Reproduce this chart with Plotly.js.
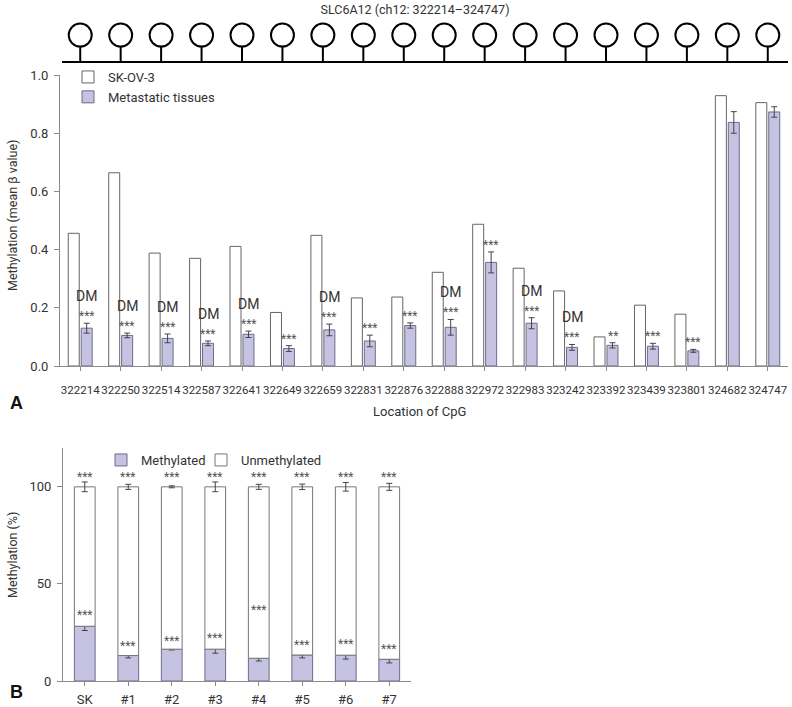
<!DOCTYPE html>
<html>
<head>
<meta charset="utf-8">
<script src="https://cdn.plot.ly/plotly-3.0.1.min.js"></script>
<style>
  html, body { margin: 0; padding: 0; background: #fff; }
  #chart { width: 792px; height: 707px; }
</style>
</head>
<body>
<div id="chart"></div>
<script>
// ---------- Panel A data ----------
const cpgSites = ['322214','322250','322514','322587','322641','322649','322659','322831','322876',
                  '322888','322972','322983','323242','323392','323439','323801','324682','324747'];
const skov3 = [0.456,0.664,0.388,0.370,0.411,0.184,0.449,0.234,0.237,0.322,0.487,0.336,0.258,0.100,0.209,0.178,0.929,0.905];
const metastatic = [0.130,0.105,0.095,0.078,0.109,0.060,0.124,0.086,0.139,0.133,0.356,0.147,0.064,0.071,0.068,0.052,0.837,0.873];
const metastaticErr = [0.017,0.008,0.015,0.008,0.011,0.010,0.020,0.020,0.009,0.027,0.036,0.019,0.010,0.009,0.010,0.005,0.037,0.018];
const sigA = ['***','***','***','***','***','***','***','***','***','***','***','***','***','**','***','***','',''];
const dmFlag = [1,1,1,1,1,0,1,0,0,1,0,1,1,0,0,0,0,0];

// ---------- Panel B data ----------
const samples = ['SK','#1','#2','#3','#4','#5','#6','#7'];
const methylated = [28.2,13.1,16.4,16.4,11.7,13.4,13.3,11.2];
const methylatedErr = [2.2,1.2,0.4,2.1,1.4,1.5,2.0,1.9];
const unmethylatedErr = [2.5,1.3,0.5,2.5,1.3,1.4,2.2,1.8];
const sigBTop = ['***','***','***','***','***','***','***','***'];
const sigBBottom = ['***','***','***','***','***','***','***','***'];

const FONT = 'Roboto, Liberation Sans, Arial, sans-serif';
const PURPLE = '#c5c3e1';
const PURPLE_LINE = '#6d6b8c';
const AXIS = '#8a8a8a';
const TXT = '#333333';

const idx = cpgSites.map((_, i) => i);
const unmethylated = methylated.map(v => 100 - v);

const traces = [
  // lollipop stems
  {
    type: 'scatter', mode: 'lines', xaxis: 'x', yaxis: 'y3',
    x: idx.flatMap(i => [i, i, null]),
    y: idx.flatMap(() => [0, 0.36, null]),
    line: {color: '#000', width: 2}, showlegend: false, hoverinfo: 'skip', cliponaxis: false
  },
  // lollipop heads
  {
    type: 'scatter', mode: 'markers', xaxis: 'x', yaxis: 'y3',
    x: idx, y: idx.map(() => 0.62),
    marker: {symbol: 'circle-open', size: 23, color: '#000', line: {width: 2, color: '#000'}},
    showlegend: false, hoverinfo: 'skip', cliponaxis: false
  },
  // Panel A bars
  {
    type: 'bar', name: 'SK-OV-3', x: idx, y: skov3, xaxis: 'x', yaxis: 'y',
    marker: {color: '#ffffff', line: {color: '#666', width: 1}}, legend: 'legend'
  },
  {
    type: 'bar', name: 'Metastatic tissues', x: idx, y: metastatic, xaxis: 'x', yaxis: 'y',
    marker: {color: PURPLE, line: {color: PURPLE_LINE, width: 1}},
    error_y: {type: 'data', array: metastaticErr, visible: true, color: '#444', thickness: 1, width: 3},
    legend: 'legend'
  },
  // Panel B stacked bars
  {
    type: 'bar', name: 'Methylated', x: samples, y: methylated, xaxis: 'x2', yaxis: 'y2',
    offsetgroup: 'b', width: 0.477, offset: -0.2385,
    marker: {color: PURPLE, line: {color: PURPLE_LINE, width: 1}},
    error_y: {type: 'data', array: methylatedErr, visible: true, color: '#444', thickness: 1, width: 3},
    legend: 'legend2'
  },
  {
    type: 'bar', name: 'Unmethylated', x: samples, y: unmethylated, base: methylated, xaxis: 'x2', yaxis: 'y2',
    offsetgroup: 'b', width: 0.477, offset: -0.2385,
    marker: {color: '#ffffff', line: {color: '#777', width: 1}},
    error_y: {type: 'data', array: unmethylatedErr, visible: true, color: '#444', thickness: 1, width: 3},
    legend: 'legend3'
  }
];

const annotations = [];
idx.forEach(i => {
  if (sigA[i]) {
    annotations.push({xref: 'x', yref: 'y', x: i, y: metastatic[i] + metastaticErr[i], xshift: 6.5, yshift: -2,
      yanchor: 'bottom', text: sigA[i], showarrow: false, font: {family: FONT, size: 12, color: '#555'}});
  }
  if (dmFlag[i]) {
    annotations.push({xref: 'x', yref: 'y', x: i, y: metastatic[i] + metastaticErr[i], xshift: 6.5, yshift: 27,
      yanchor: 'middle', text: 'DM', showarrow: false, font: {family: FONT, size: 14, color: TXT}});
  }
});
samples.forEach((s, i) => {
  annotations.push({xref: 'x2', yref: 'y2', x: s, y: 100, yshift: 1, yanchor: 'bottom',
    text: sigBTop[i], showarrow: false, font: {family: FONT, size: 12, color: '#555'}});
  const yb = (s === '#4') ? 33 : methylated[i] + methylatedErr[i];
  annotations.push({xref: 'x2', yref: 'y2', x: s, y: yb, yshift: -2, yanchor: 'bottom',
    text: sigBBottom[i], showarrow: false, font: {family: FONT, size: 12, color: '#555'}});
});
// axis titles & panel letters
annotations.push(
  {xref: 'paper', yref: 'paper', x: 0.4945, y: (707 - 411) / 707, text: 'Location of CpG', showarrow: false,
   font: {family: FONT, size: 13, color: TXT}, xanchor: 'center', yanchor: 'middle'},
  {xref: 'paper', yref: 'paper', x: (12 - 60) / 728, y: (707 - 216) / 707, text: 'Methylation (mean β value)', textangle: -90,
   showarrow: false, font: {family: FONT, size: 12.5, color: TXT}, xanchor: 'center', yanchor: 'middle'},
  {xref: 'paper', yref: 'paper', x: (12 - 60) / 728, y: (707 - 555) / 707, text: 'Methylation (%)', textangle: -90,
   showarrow: false, font: {family: FONT, size: 12.5, color: TXT}, xanchor: 'center', yanchor: 'middle'},
  {xref: 'paper', yref: 'paper', x: (16 - 60) / 728, y: (707 - 403) / 707, text: '<b>A</b>', showarrow: false,
   font: {family: 'Liberation Sans, Arial, sans-serif', size: 18, color: '#111'}, xanchor: 'center', yanchor: 'middle'},
  {xref: 'paper', yref: 'paper', x: (16 - 60) / 728, y: (707 - 692) / 707, text: '<b>B</b>', showarrow: false,
   font: {family: 'Liberation Sans, Arial, sans-serif', size: 18, color: '#111'}, xanchor: 'center', yanchor: 'middle'}
);

const axisCommon = {
  showline: true, linecolor: AXIS, linewidth: 1, ticks: 'outside', tickcolor: AXIS, ticklen: 5,
  showgrid: false, zeroline: false, tickfont: {family: FONT, size: 13, color: TXT}, fixedrange: true
};

const legendCommon = {xanchor: 'left', yanchor: 'top', bgcolor: 'rgba(0,0,0,0)',
  font: {family: FONT, size: 13, color: TXT}, traceorder: 'normal', itemclick: false};

const layout = {
  width: 792, height: 707,
  margin: {l: 60, r: 4, t: 0, b: 0},
  paper_bgcolor: '#fff', plot_bgcolor: 'rgba(0,0,0,0)',
  font: {family: FONT, size: 13, color: TXT},
  title: {text: 'SLC6A12 (ch12: 322214–324747)', x: 415 / 792, xanchor: 'center', xref: 'container',
          y: 1 - 10 / 707, yanchor: 'middle', yref: 'container', font: {family: FONT, size: 12.5, color: TXT}},
  barmode: 'group', bargap: 0.36, bargroupgap: 0.15,
  showlegend: true,
  xaxis: Object.assign({}, axisCommon, {domain: [0, 1], anchor: 'y', type: 'linear', range: [-0.5, 17.5],
          tickvals: idx, ticktext: cpgSites, tickangle: 0, ticklen: 4, ticklabelstandoff: 9,
          tickfont: {family: FONT, size: 11.5, color: TXT}}),
  yaxis: Object.assign({}, axisCommon, {domain: [(707 - 366) / 707, (707 - 75) / 707], anchor: 'x', range: [0, 1],
          tickvals: [0, 0.2, 0.4, 0.6, 0.8, 1.0], tickformat: '.1f', ticklabelstandoff: 3}),
  yaxis3: {domain: [(707 - 63) / 707, (707 - 18) / 707], anchor: 'x', range: [0, 1], visible: false, fixedrange: true},
  xaxis2: Object.assign({}, axisCommon, {domain: [3 / 728, 351 / 728], anchor: 'y2', type: 'category', tickangle: 0,
          ticklen: 4, ticklabelstandoff: 2}),
  yaxis2: Object.assign({}, axisCommon, {domain: [(707 - 681) / 707, (707 - 448) / 707], anchor: 'x2', range: [0, 120],
          tickvals: [0, 50, 100], ticklabelstandoff: 3}),
  legend: Object.assign({}, legendCommon, {x: 8 / 728, y: (707 - 62) / 707, tracegroupgap: 0}),
  legend2: Object.assign({}, legendCommon, {orientation: 'h', x: 41 / 728, y: (707 - 445) / 707}),
  legend3: Object.assign({}, legendCommon, {orientation: 'h', x: 141 / 728, y: (707 - 445) / 707}),
  shapes: [
    {type: 'line', xref: 'paper', yref: 'y3', x0: 2 / 728, x1: 1, y0: 0, y1: 0, line: {color: '#000', width: 4}}
  ],
  annotations: annotations
};

Plotly.newPlot('chart', traces, layout, {displayModeBar: false, staticPlot: true});
</script>
</body>
</html>
